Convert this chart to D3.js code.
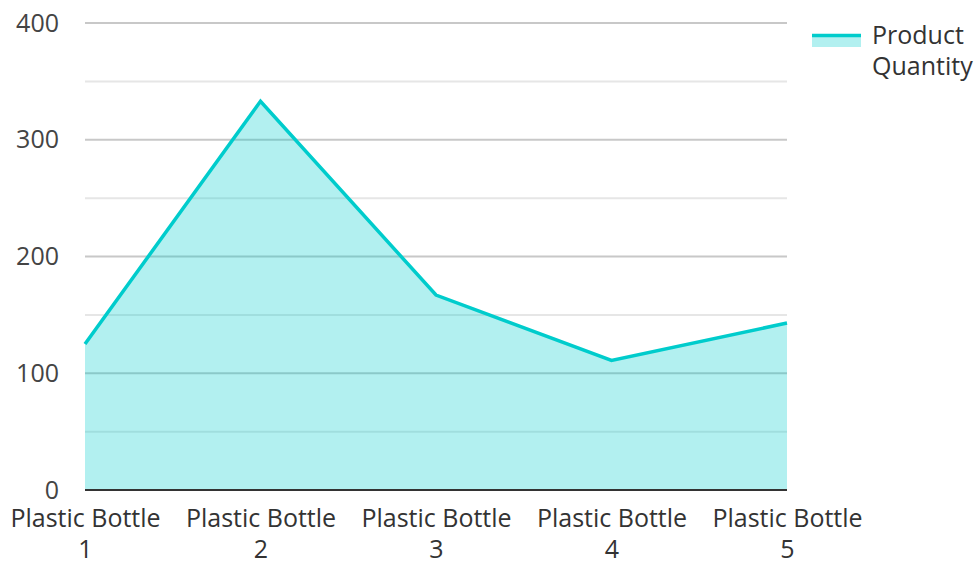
<!DOCTYPE html>
<html><head><meta charset="utf-8">
<script src="https://cdn.jsdelivr.net/npm/d3@7"></script>
<style>body{margin:0;background:#fff;font-family:"Open Sans",sans-serif;}</style>
</head><body><svg id="c" width="976" height="562"></svg>
<script>
const categories = ["Plastic Bottle 1","Plastic Bottle 2","Plastic Bottle 3","Plastic Bottle 4","Plastic Bottle 5"];
const values = [125, 333, 167, 111, 143];
const seriesName = "Product Quantity";
const yTicks = [0,100,200,300,400];
const yMinor = [50,150,250,350];

const svg = d3.select("#c");
const m = {l:85, r:189, t:23, b:72};
const W = 976, H = 562;
const FS = 25;
const x = d3.scalePoint().domain(categories).range([m.l, W - m.r]);
const y = d3.scaleLinear().domain([0,400]).range([H - m.b, m.t]);

const g = svg.append("g");
g.selectAll(".minor").data(yMinor).enter().append("line")
  .attr("x1", m.l).attr("x2", W - m.r).attr("y1", d=>y(d)).attr("y2", d=>y(d))
  .attr("stroke","#e6e6e6").attr("stroke-width",2);
g.selectAll(".major").data(yTicks.filter(d=>d>0)).enter().append("line")
  .attr("x1", m.l).attr("x2", W - m.r).attr("y1", d=>y(d)).attr("y2", d=>y(d))
  .attr("stroke","#c8c8c8").attr("stroke-width",2);

const area = d3.area().x((d,i)=>x(categories[i])).y0(y(0)).y1(d=>y(d));
const line = d3.line().x((d,i)=>x(categories[i])).y(d=>y(d));
g.append("path").datum(values).attr("d", area).attr("fill","rgba(0,204,204,0.3)");
g.append("path").datum(values).attr("d", line).attr("fill","none")
  .attr("stroke","#00cccc").attr("stroke-width",3.5).attr("stroke-linejoin","miter");

// baseline
g.append("line").attr("x1", m.l).attr("x2", W - m.r).attr("y1", y(0)).attr("y2", y(0))
  .attr("stroke","#333").attr("stroke-width",2);

// y labels
const ya = d3.axisLeft(y).tickValues(yTicks).tickSize(0).tickPadding(0);
const yg = svg.append("g").attr("transform",`translate(59,0)`).call(ya);
yg.select(".domain").remove();
yg.selectAll("text").attr("font-family","'Open Sans'").attr("font-size",FS).attr("fill","#444").attr("dy","0.32em");

// x labels
const xa = d3.axisBottom(x).tickSize(0).tickPadding(0);
const xg = svg.append("g").attr("transform",`translate(0,${y(0)})`).call(xa);
xg.select(".domain").remove();
xg.selectAll("text").each(function(d){
  const t = d3.select(this); t.text(null).attr("y",0).attr("dy",null)
    .attr("font-family","'Open Sans'").attr("font-size",FS).attr("fill","#333");
  const idx = d.lastIndexOf(" ");
  t.append("tspan").attr("x",0).attr("y",37).text(d.slice(0,idx));
  t.append("tspan").attr("x",0).attr("y",68).text(d.slice(idx+1));
});

// legend
const lg = svg.append("g");
lg.append("rect").attr("x",812).attr("y",36).attr("width",49).attr("height",11).attr("fill","rgba(0,204,204,0.3)");
lg.append("line").attr("x1",812).attr("x2",861).attr("y1",35.5).attr("y2",35.5).attr("stroke","#00cccc").attr("stroke-width",3.5);
const words = seriesName.split(" ");
lg.append("text").attr("x",872).attr("y",44).attr("font-size",FS).attr("fill","#333").attr("font-family","'Open Sans'").text(words[0]);
lg.append("text").attr("x",872).attr("y",75).attr("font-size",FS).attr("fill","#333").attr("font-family","'Open Sans'").text(words[1]);
</script></body></html>
